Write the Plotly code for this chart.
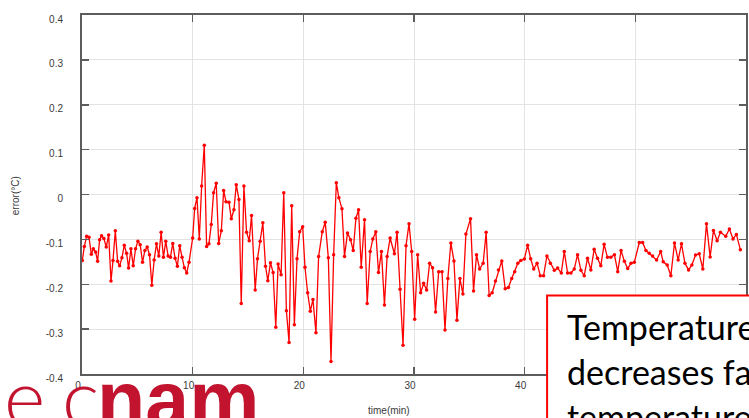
import plotly.graph_objects as go

# ---------------- data ----------------
time_min = [
    0.03, 0.21, 0.42, 0.63, 0.84, 1.02, 1.23, 1.41, 1.59, 1.77, 1.98, 2.19, 2.41, 2.62, 2.80,
    3.01, 3.22, 3.40, 3.61, 3.82, 4.03, 4.21, 4.42, 4.63, 4.84, 5.05, 5.26, 5.47, 5.68, 5.89,
    6.10, 6.31, 6.52, 6.73, 6.94, 7.15, 7.36, 7.57, 7.78, 7.99, 8.20, 8.41, 8.62, 8.83, 9.04,
    9.25, 9.46, 9.67,
    10.00, 10.18, 10.39, 10.60, 10.81, 11.05, 11.26, 11.47, 11.68, 11.89, 12.13, 12.35, 12.59,
    12.80, 13.01, 13.28, 13.49, 13.73, 13.94, 14.18, 14.39, 14.63, 14.87, 15.11, 15.32, 15.65,
    15.86, 16.10, 16.34, 16.58, 16.79, 17.03, 17.27, 17.51, 17.72, 17.99, 18.23, 18.47, 18.71,
    18.95, 19.19, 19.43,
    19.67, 19.94, 20.15, 20.39, 20.63, 20.87, 21.14, 21.38, 21.71, 21.98,
    22.26, 22.50, 22.74, 22.98, 23.21, 23.49, 23.72, 23.99, 24.27, 24.51,
    24.75, 24.99, 25.23, 25.53, 25.77, 26.04, 26.28, 26.55, 26.79, 27.06,
    27.33, 27.57, 27.84, 28.23, 28.47, 28.74, 29.01, 29.28, 29.55, 29.79, 30.06,
    30.33, 30.60, 30.87, 31.14, 31.41, 31.68, 31.95, 32.23, 32.53, 32.80,
    33.06, 33.33, 33.61, 33.88, 34.15, 34.42, 34.69, 35.11, 35.38, 35.65,
    35.93, 36.25, 36.52, 36.79, 37.06, 37.36, 37.63, 37.93, 38.24, 38.53,
    38.83, 39.10, 39.38, 39.65, 39.97,
    40.27, 40.54, 40.82, 41.12, 41.41, 41.71, 42.01, 42.32, 42.68, 42.98,
    43.31, 43.58, 43.88, 44.18, 44.48, 44.78, 45.08, 45.38, 45.68, 45.98,
    46.28, 46.58, 46.88, 47.18, 47.48, 47.78, 48.11, 48.41, 48.71, 49.01,
    49.31, 49.61, 49.91,
    50.36, 50.66, 50.96, 51.26, 51.56, 51.92, 52.29, 52.52, 52.88, 53.21,
    53.54, 53.87, 54.17, 54.48, 54.81, 55.11, 55.44, 55.77, 56.10, 56.43,
    56.76, 57.06, 57.39, 57.69, 58.17, 58.50, 58.83, 59.13, 59.49,
]

error_c = [
    -0.147, -0.116, -0.093, -0.095, -0.133, -0.121, -0.128, -0.149, -0.101, -0.092, -0.098, -0.117,
    -0.090, -0.193, -0.147, -0.081, -0.149, -0.159, -0.141, -0.113, -0.131, -0.164, -0.121, -0.159,
    -0.121, -0.104, -0.112, -0.151, -0.125, -0.117, -0.134, -0.202, -0.146, -0.110, -0.137, -0.084,
    -0.140, -0.104, -0.137, -0.140, -0.109, -0.142, -0.160, -0.114, -0.140, -0.163, -0.175, -0.151,
    -0.097, -0.031, -0.007, -0.099, 0.019, 0.110, -0.116, -0.110, -0.067, 0.004, 0.025, -0.109,
    -0.081, 0.009, -0.016, -0.017, -0.054, -0.034, 0.022, -0.011, -0.243, 0.019, -0.084, -0.103,
    -0.047, -0.213, -0.143, -0.104, -0.063, -0.160, -0.192, -0.152, -0.174, -0.296, -0.155, -0.179,
    0.004, -0.259, -0.330, -0.025, -0.290, -0.143,
    -0.083, -0.072, -0.162, -0.219, -0.260, -0.234, -0.308, -0.138, -0.083, -0.062,
    -0.141, -0.372, -0.134, 0.026, -0.007, -0.032, -0.138, -0.086, -0.101, -0.125,
    -0.053, -0.034, -0.162, -0.056, -0.243, -0.127, -0.099, -0.083, -0.174, -0.127,
    -0.246, -0.138, -0.097, -0.132, -0.084, -0.211, -0.336, -0.114, -0.065, -0.127, -0.278,
    -0.134, -0.219, -0.198, -0.213, -0.153, -0.163, -0.262, -0.172, -0.172, -0.302,
    -0.187, -0.108, -0.148, -0.280, -0.187, -0.222, -0.088, -0.054, -0.215, -0.134,
    -0.166, -0.153, -0.084, -0.225, -0.219, -0.193, -0.168, -0.148, -0.210, -0.207,
    -0.187, -0.172, -0.153, -0.147, -0.144,
    -0.113, -0.143, -0.166, -0.153, -0.181, -0.181, -0.137, -0.153, -0.169, -0.164,
    -0.175, -0.127, -0.175, -0.175, -0.166, -0.134, -0.169, -0.181, -0.142, -0.168,
    -0.122, -0.142, -0.159, -0.111, -0.140, -0.140, -0.134, -0.172, -0.125, -0.149,
    -0.165, -0.153, -0.151,
    -0.107, -0.107, -0.125, -0.131, -0.137, -0.146, -0.127, -0.150, -0.157, -0.181,
    -0.108, -0.146, -0.110, -0.153, -0.168, -0.157, -0.135, -0.132, -0.166, -0.065,
    -0.139, -0.080, -0.103, -0.084, -0.093, -0.077, -0.099, -0.089, -0.123,
]

x_tick_vals = [0, 10, 20, 30, 40, 50, 60]
x_tick_text = ["0", "10", "20", "30", "40", "50", "60"]
y_tick_vals = [-0.4, -0.3, -0.2, -0.1, 0, 0.1, 0.2, 0.3, 0.4]
y_tick_text = ["-0.4", "-0.3", "-0.2", "-0.1", "0", "0.1", "0.2", "0.3", "0.4"]

x_title = "time(min)"
y_title = "error(°C)"
box_lines = ["Temperature", "decreases fast", "temperature"]

# ---------------- layout helpers ----------------
W, H = 749, 418
ML, MR, MT, MB = 82, 1, 15, 44


def px_x(px):
    return (px - ML) / (W - ML - MR)


def px_y(py):
    return (H - MB - py) / (H - MT - MB)


RED = "#ff0000"
LOGO = "#C2132F"
AXIS = "#5c5c5c"
GRID = "#e3e3e3"
TXT = "#3a3a3a"

fig = go.Figure(
    go.Scatter(
        x=time_min,
        y=error_c,
        mode="lines+markers",
        line=dict(color=RED, width=1.3),
        marker=dict(color=RED, size=3.5),
        hoverinfo="skip",
    )
)

fig.update_layout(
    width=W,
    height=H,
    margin=dict(l=ML, r=MR, t=MT, b=MB, pad=0),
    paper_bgcolor="white",
    plot_bgcolor="white",
    showlegend=False,
    font=dict(family="Liberation Sans, Arial, sans-serif", size=10, color=TXT),
)

fig.update_xaxes(
    range=[0, 60],
    tickmode="array",
    tickvals=x_tick_vals,
    ticktext=x_tick_text,
    ticks="inside",
    ticklen=7,
    tickwidth=1.5,
    tickcolor=AXIS,
    showline=True,
    linewidth=2,
    linecolor=AXIS,
    mirror="ticks",
    showgrid=True,
    gridcolor=GRID,
    gridwidth=1,
    zeroline=False,
    ticklabelstandoff=1,
    ticklabelshift=-4,
    tickfont=dict(size=10, color=TXT),
)

fig.update_yaxes(
    range=[-0.4, 0.4],
    tickmode="array",
    tickvals=y_tick_vals,
    ticktext=y_tick_text,
    ticks="inside",
    ticklen=7,
    tickwidth=1.5,
    tickcolor=AXIS,
    showline=True,
    linewidth=2,
    linecolor=AXIS,
    mirror="ticks",
    showgrid=True,
    gridcolor=GRID,
    gridwidth=1,
    zeroline=False,
    ticklabelstandoff=15,
    ticklabelshift=4,
    tickfont=dict(size=10, color=TXT),
)

annotations = [
    dict(text=x_title, x=px_x(390), y=px_y(410), xref="paper", yref="paper",
         xanchor="center", yanchor="middle", showarrow=False,
         font=dict(size=10, color=TXT)),
    dict(text=y_title, x=px_x(16), y=px_y(196), xref="paper", yref="paper",
         xanchor="center", yanchor="middle", textangle=-90, showarrow=False,
         font=dict(size=10, color=TXT)),
]

# text box lines
BOX_FS = 34
box_baselines = [339, 384, 429]
for line, base in zip(box_lines, box_baselines):
    annotations.append(dict(
        text=line, x=px_x(566), y=px_y(base - 0.987 * BOX_FS - 1), xref="paper", yref="paper",
        xanchor="left", yanchor="top", showarrow=False,
        font=dict(family="Lato, Carlito, sans-serif", size=BOX_FS, color="black"),
    ))

# logo "e cnam"
logo_base = 425
annotations.append(dict(
    text="e", x=px_x(2), y=px_y(logo_base - 0.987 * 79 - 1), xref="paper", yref="paper",
    xanchor="left", yanchor="top", showarrow=False,
    font=dict(family="Lato", size=79, color=LOGO, weight=300),
))
annotations.append(dict(
    text="c", x=px_x(60), y=px_y(logo_base - 0.987 * 79 - 1), xref="paper", yref="paper",
    xanchor="left", yanchor="top", showarrow=False,
    font=dict(family="Lato", size=79, color=LOGO, weight=300),
))
annotations.append(dict(
    text="nam", x=px_x(95), y=px_y(logo_base - 0.905 * 79 - 1), xref="paper", yref="paper",
    xanchor="left", yanchor="top", showarrow=False,
    font=dict(family="Liberation Sans, Arial", size=79, color=LOGO, weight="bold"),
))

fig.update_layout(annotations=annotations)

fig.add_shape(
    type="rect", xref="paper", yref="paper",
    x0=px_x(548.5), x1=px_x(790), y0=px_y(460), y1=px_y(295.5),
    line=dict(color=RED, width=2), fillcolor="white", layer="above",
)

fig.write_html(
    "out.html",
    config={"displayModeBar": False, "staticPlot": True},
    post_script="document.body.style.margin='0px';document.body.style.overflow='hidden';",
)
